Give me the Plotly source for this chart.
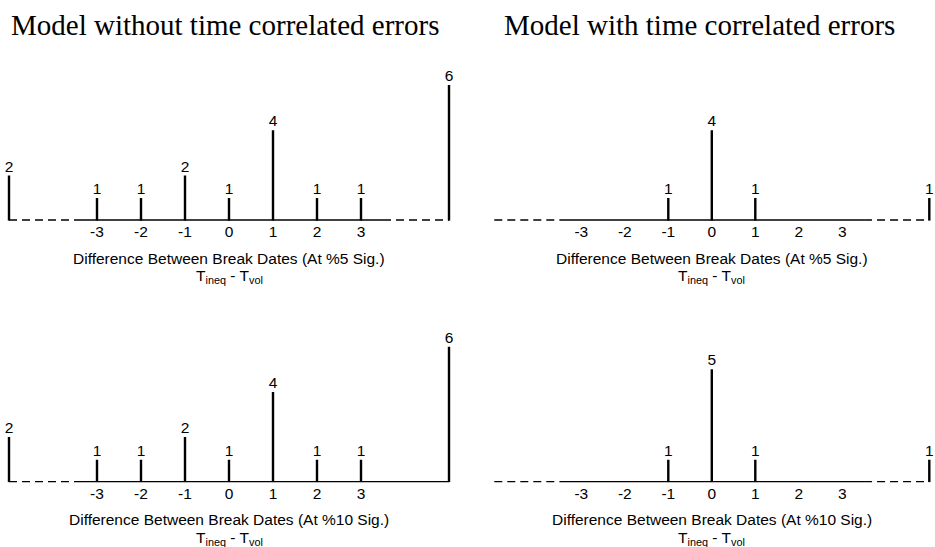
import plotly.graph_objects as go

# ---- data ----
positions = [-5, -3, -2, -1, 0, 1, 2, 3, 5]   # -5 / 5 stand for the open tails (< -3, > 3)
tick_vals = [-3, -2, -1, 0, 1, 2, 3]
tick_text = ["-3", "-2", "-1", "0", "1", "2", "3"]
without_5 = [2, 1, 1, 2, 1, 4, 1, 1, 6]
with_5 = [0, 0, 0, 1, 4, 1, 0, 0, 1]
without_10 = [2, 1, 1, 2, 1, 4, 1, 1, 6]
with_10 = [0, 0, 0, 1, 5, 1, 0, 0, 1]
title_left = "Model without time correlated errors"
title_right = "Model with time correlated errors"
xlab_5 = "Difference Between Break Dates (At %5 Sig.)"
xlab_10 = "Difference Between Break Dates (At %10 Sig.)"
xlab_2 = "T<sub>ineq</sub> - T<sub>vol</sub>"

W, H = 935, 547
SANS = "Liberation Sans, Arial, sans-serif"
SERIF = "Liberation Serif, Times New Roman, serif"
UNIT = 22.6  # px per count
FS = 15.5
DASH = "8px,5px"

def px(p):
    return p / W

def py(p):
    return 1 - p / H

# panels: (values, xaxis id, col, row, right tail dashed?, xlabel)
panels = [
    (without_5, 1, 0, 0, True, xlab_5),
    (with_5, 2, 1, 0, True, xlab_5),
    (without_10, 3, 0, 1, False, xlab_10),
    (with_10, 4, 1, 1, True, xlab_10),
]
zero_px = [229.0, 711.8]
half_w = [229.0, 222.0]
spacing = [44.0, 43.5]
base_px = [220.7, 482.3]
top_px = [60.0, 320.0]

fig = go.Figure()
layout = {}
annotations = []

for vals, k, col, row, right_dashed, xlab in panels:
    xa = "x" if k == 1 else f"x{k}"
    ya = "y" if k == 1 else f"y{k}"
    # baseline
    fig.add_trace(go.Scatter(x=[-3.5, 3.5], y=[0, 0], mode="lines",
                             line=dict(color="black", width=2.7),
                             xaxis=xa, yaxis=ya, hoverinfo="skip", showlegend=False))
    fig.add_trace(go.Scatter(x=[-5, -3.5], y=[0, 0], mode="lines",
                             line=dict(color="black", width=2.7, dash=DASH),
                             xaxis=xa, yaxis=ya, hoverinfo="skip", showlegend=False))
    fig.add_trace(go.Scatter(x=[3.5, 5], y=[0, 0], mode="lines",
                             line=dict(color="black", width=2.7,
                                       dash=DASH if right_dashed else "solid"),
                             xaxis=xa, yaxis=ya, hoverinfo="skip", showlegend=False))
    # spikes
    sx, sy, lx, ly, lt = [], [], [], [], []
    for p, v in zip(positions, vals):
        if v > 0:
            sx += [p, p, None]
            sy += [0, v, None]
            lx.append(p)
            ly.append(v)
            lt.append(str(v))
    fig.add_trace(go.Scatter(x=sx, y=sy, mode="lines",
                             line=dict(color="black", width=2.4),
                             xaxis=xa, yaxis=ya, hoverinfo="skip", showlegend=False))
    fig.add_trace(go.Scatter(x=lx, y=ly, mode="text", text=lt, textposition="top center",
                             textfont=dict(family=SANS, size=FS, color="black"),
                             cliponaxis=False,
                             xaxis=xa, yaxis=ya, hoverinfo="skip", showlegend=False))

    z, hw, sp = zero_px[col], half_w[col], spacing[col]
    b, t = base_px[row], top_px[row]
    xkey = "xaxis" if k == 1 else f"xaxis{k}"
    ykey = "yaxis" if k == 1 else f"yaxis{k}"
    layout[xkey] = dict(domain=[px(z - hw), px(z + hw)],
                        range=[-hw / sp, hw / sp],
                        anchor=ya, tickvals=tick_vals, ticktext=tick_text,
                        tickfont=dict(family=SANS, size=FS, color="black"),
                        showgrid=False, zeroline=False, showline=False, ticks="",
                        fixedrange=True)
    layout[ykey] = dict(domain=[py(b), py(t)], range=[0, (b - t) / UNIT],
                        anchor=xa, visible=False, fixedrange=True)
    annotations.append(dict(text=xlab, x=px(z), y=py(b + 37.5), xref="paper", yref="paper",
                            xanchor="center", yanchor="middle", showarrow=False,
                            font=dict(family=SANS, size=FS, color="black")))
    annotations.append(dict(text=xlab_2, x=px(z), y=py(b + 56), xref="paper", yref="paper",
                            xanchor="center", yanchor="middle", showarrow=False,
                            font=dict(family=SANS, size=FS, color="black")))

annotations.append(dict(text=title_left, x=px(225), y=py(25), xref="paper", yref="paper",
                        xanchor="center", yanchor="middle", showarrow=False,
                        font=dict(family=SERIF, size=29, color="black")))
annotations.append(dict(text=title_right, x=px(699), y=py(25), xref="paper", yref="paper",
                        xanchor="center", yanchor="middle", showarrow=False,
                        font=dict(family=SERIF, size=29, color="black")))

fig.update_layout(width=W, height=H, margin=dict(l=0, r=0, t=0, b=0),
                  paper_bgcolor="white", plot_bgcolor="white",
                  annotations=annotations, **layout)
fig.write_html("out.html")
